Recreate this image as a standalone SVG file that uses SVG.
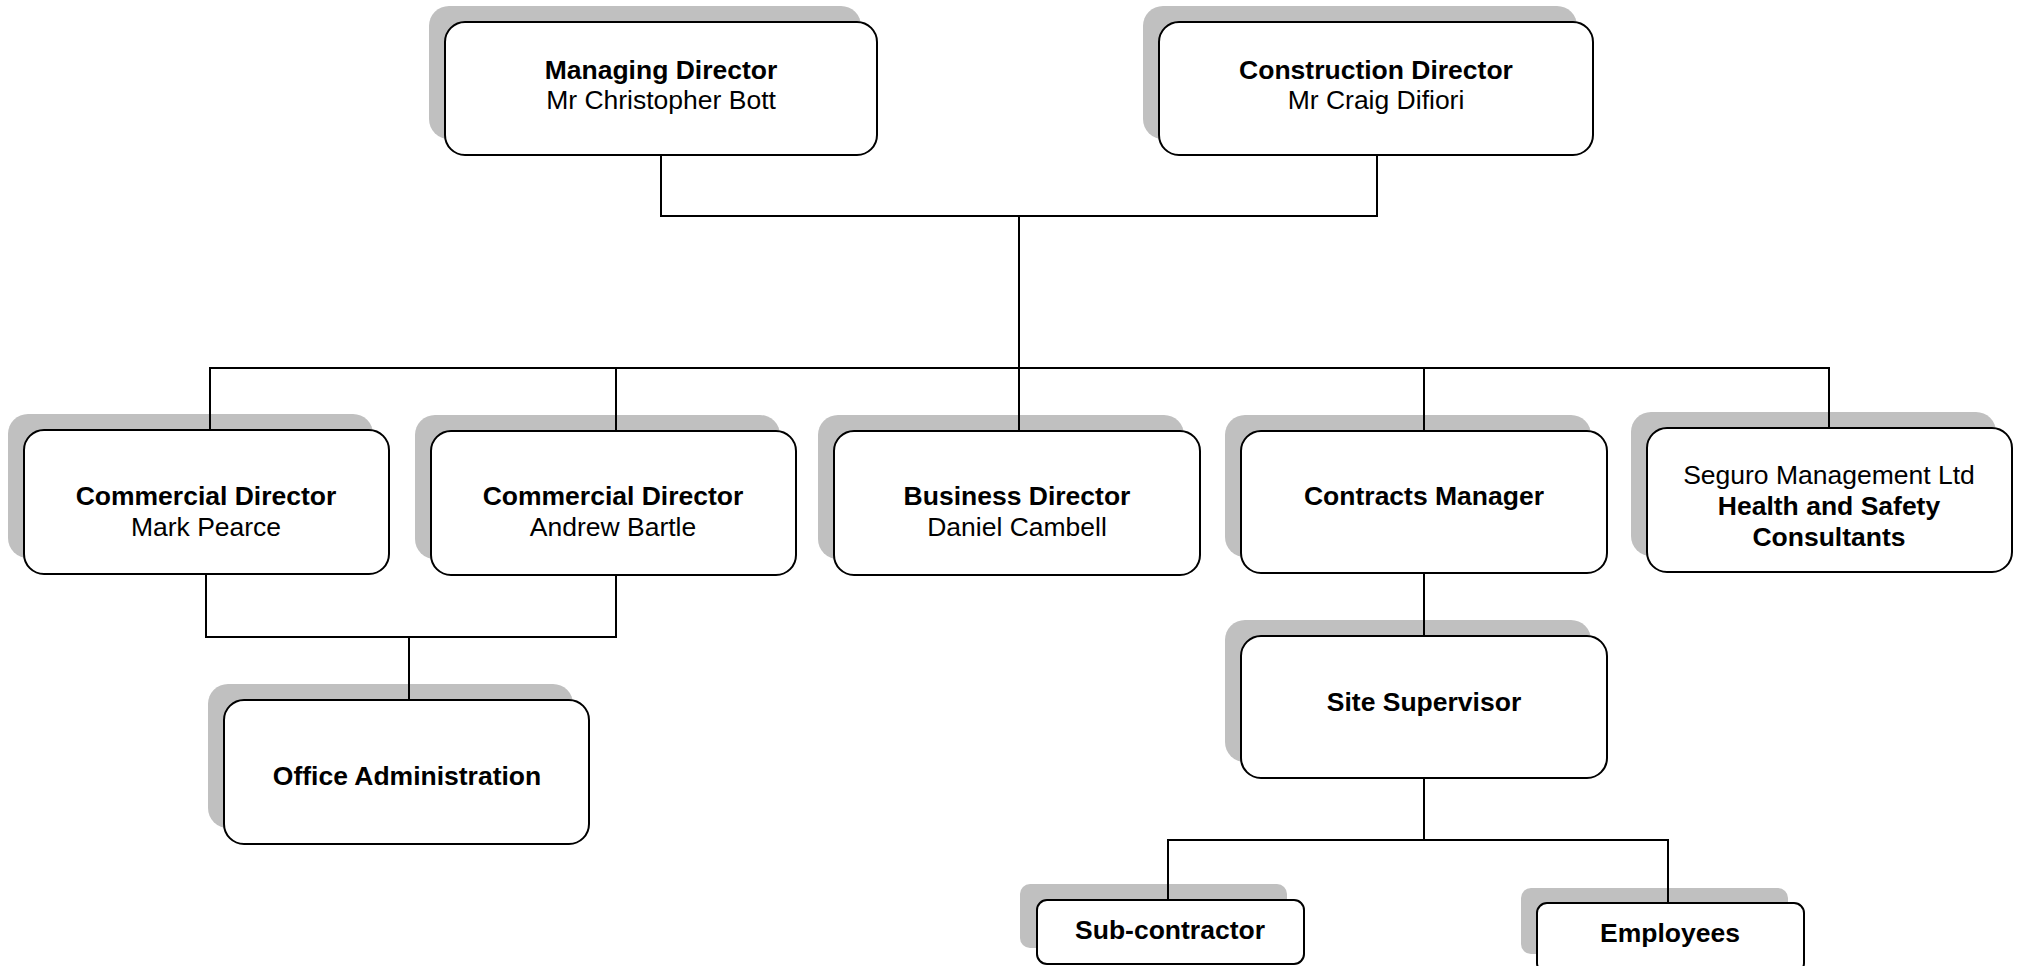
<svg xmlns="http://www.w3.org/2000/svg" width="2020" height="966" viewBox="0 0 2020 966">
<style>
.sh{fill:#c0c0c0;stroke:none}
.bx{fill:#ffffff;stroke:#000000;stroke-width:2}
.t{font-family:"Liberation Sans",Arial,sans-serif;font-size:26.5px;fill:#000000;text-anchor:middle}
.b{font-weight:bold}
.c{fill:none;stroke:#000000;stroke-width:2}
</style>
<rect width="2020" height="966" fill="#ffffff"/>
<g id="managing-director">
<rect class="sh" x="429" y="6" width="432" height="133" rx="20"/>
<rect class="bx" x="445" y="22" width="432" height="133" rx="20"/>
<text class="t b" x="661" y="79">Managing Director</text>
<text class="t" x="661" y="109">Mr Christopher Bott</text>
</g>
<g id="construction-director">
<rect class="sh" x="1143" y="6" width="434" height="133" rx="20"/>
<rect class="bx" x="1159" y="22" width="434" height="133" rx="20"/>
<text class="t b" x="1376" y="79">Construction Director</text>
<text class="t" x="1376" y="109">Mr Craig Difiori</text>
</g>
<g id="commercial-director-1">
<rect class="sh" x="8" y="414" width="365" height="144" rx="20"/>
<rect class="bx" x="24" y="430" width="365" height="144" rx="20"/>
<text class="t b" x="206" y="505">Commercial Director</text>
<text class="t" x="206" y="536">Mark Pearce</text>
</g>
<g id="commercial-director-2">
<rect class="sh" x="415" y="415" width="365" height="144" rx="20"/>
<rect class="bx" x="431" y="431" width="365" height="144" rx="20"/>
<text class="t b" x="613" y="505">Commercial Director</text>
<text class="t" x="613" y="536">Andrew Bartle</text>
</g>
<g id="business-director">
<rect class="sh" x="818" y="415" width="366" height="144" rx="20"/>
<rect class="bx" x="834" y="431" width="366" height="144" rx="20"/>
<text class="t b" x="1017" y="505">Business Director</text>
<text class="t" x="1017" y="536">Daniel Cambell</text>
</g>
<g id="contracts-manager">
<rect class="sh" x="1225" y="415" width="366" height="142" rx="20"/>
<rect class="bx" x="1241" y="431" width="366" height="142" rx="20"/>
<text class="t b" x="1424" y="505">Contracts Manager</text>
</g>
<g id="seguro">
<rect class="sh" x="1631" y="412" width="365" height="144" rx="20"/>
<rect class="bx" x="1647" y="428" width="365" height="144" rx="20"/>
<text class="t" x="1829" y="484">Seguro Management Ltd</text>
<text class="t b" x="1829" y="515">Health and Safety</text>
<text class="t b" x="1829" y="546">Consultants</text>
</g>
<g id="office-administration">
<rect class="sh" x="208" y="684" width="365" height="144" rx="20"/>
<rect class="bx" x="224" y="700" width="365" height="144" rx="20"/>
<text class="t b" x="407" y="785">Office Administration</text>
</g>
<g id="site-supervisor">
<rect class="sh" x="1225" y="620" width="366" height="142" rx="20"/>
<rect class="bx" x="1241" y="636" width="366" height="142" rx="20"/>
<text class="t b" x="1424" y="711">Site Supervisor</text>
</g>
<g id="sub-contractor">
<rect class="sh" x="1020" y="884" width="267" height="64" rx="10"/>
<rect class="bx" x="1037" y="900" width="267" height="64" rx="10"/>
<text class="t b" x="1170" y="939">Sub-contractor</text>
</g>
<g id="employees">
<rect class="sh" x="1521" y="888" width="267" height="66" rx="10"/>
<rect class="bx" x="1537" y="903" width="267" height="70" rx="10"/>
<text class="t b" x="1670" y="942">Employees</text>
</g>
<g id="connectors">
<path class="c" d="M661 155V216H1377V155"/>
<path class="c" d="M1019 216V368"/>
<path class="c" d="M210 430V368H1829V428"/>
<path class="c" d="M616 368V431"/>
<path class="c" d="M1019 368V431"/>
<path class="c" d="M1424 368V431"/>
<path class="c" d="M206 574V637H616V575"/>
<path class="c" d="M409 637V700"/>
<path class="c" d="M1424 573V636"/>
<path class="c" d="M1424 778V840"/>
<path class="c" d="M1168 900V840H1668V903"/>
</g>
</svg>
